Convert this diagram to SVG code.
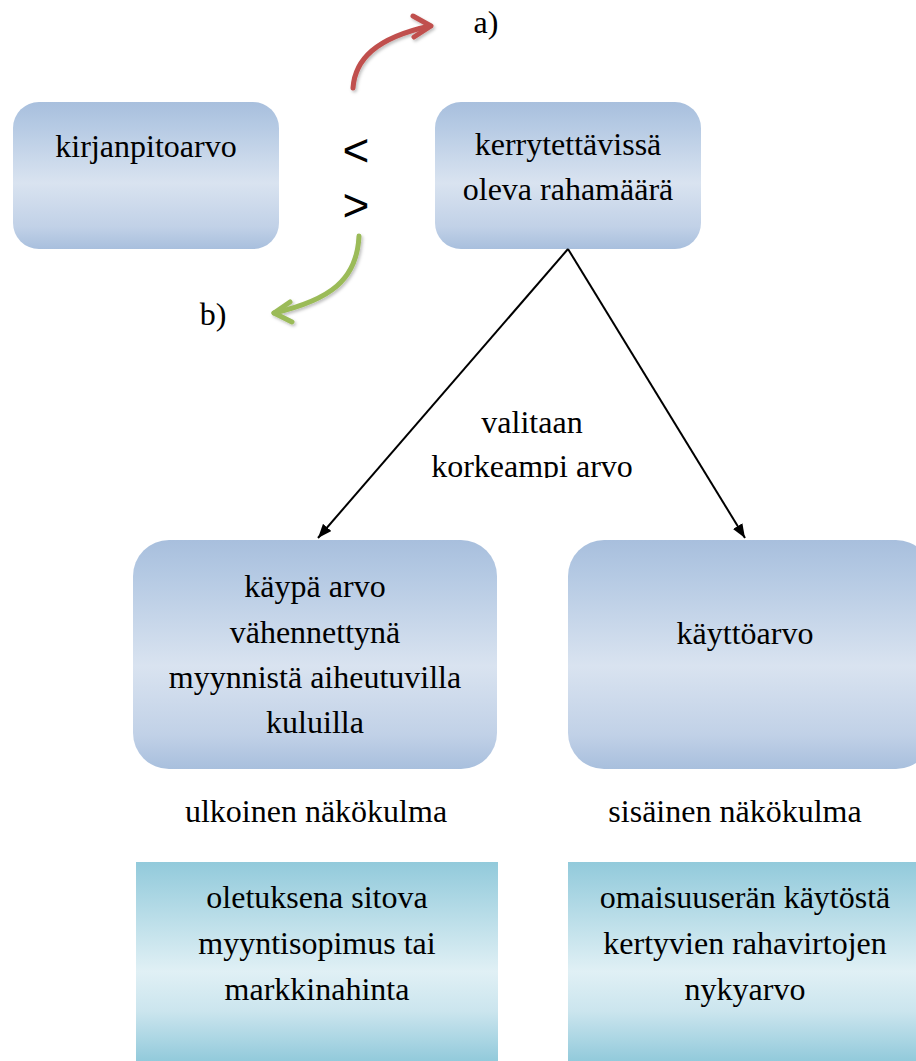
<svg xmlns="http://www.w3.org/2000/svg" width="916" height="1061" viewBox="0 0 916 1061">
<defs>
  <linearGradient id="blue" x1="0" y1="0" x2="0" y2="1">
    <stop offset="0" stop-color="#a8bfdd"/>
    <stop offset="0.15" stop-color="#b4c9e3"/>
    <stop offset="0.55" stop-color="#d9e3f0"/>
    <stop offset="0.85" stop-color="#c1d1e7"/>
    <stop offset="1" stop-color="#a8bfdd"/>
  </linearGradient>
  <linearGradient id="teal" x1="0" y1="0" x2="0" y2="1">
    <stop offset="0" stop-color="#92cadb"/>
    <stop offset="0.55" stop-color="#e0f0f5"/>
    <stop offset="0.75" stop-color="#cbe5ee"/>
    <stop offset="1" stop-color="#92cadb"/>
  </linearGradient>
  <marker id="ah" viewBox="0 0 14 11" refX="14" refY="5.5" markerWidth="14" markerHeight="11" markerUnits="userSpaceOnUse" orient="auto">
    <path d="M0,0 L14,5.5 L0,11 Z" fill="#000"/>
  </marker>
  <filter id="sh" x="-20%" y="-20%" width="140%" height="140%">
    <feDropShadow dx="1.5" dy="2" stdDeviation="1.5" flood-color="#000" flood-opacity="0.25"/>
  </filter>
  <clipPath id="clipLabel">
    <rect x="380" y="380" width="300" height="98"/>
  </clipPath>
</defs>

<g id="node-kirjanpitoarvo" font-family="Liberation Serif" font-size="32" text-anchor="middle">
  <rect fill="url(#blue)" x="13" y="102" width="266" height="147" rx="26"/>
  <text x="146" y="157">kirjanpitoarvo</text>
</g>

<g id="node-kerrytettavissa" font-family="Liberation Serif" font-size="32" text-anchor="middle">
  <rect fill="url(#blue)" x="435" y="102" width="266" height="147" rx="26"/>
  <text x="568" y="155">kerrytettävissä</text>
  <text x="568" y="200">oleva rahamäärä</text>
</g>

<g id="symbols" font-family="Liberation Sans" font-size="46" text-anchor="middle">
  <text x="356" y="166">&lt;</text>
  <text x="356" y="221">&gt;</text>
</g>

<g id="label-a" font-family="Liberation Serif" font-size="32" text-anchor="middle"><text x="486" y="33">a)</text></g>
<g id="label-b" font-family="Liberation Serif" font-size="32" text-anchor="middle"><text x="213" y="325">b)</text></g>

<g id="node-kaypa-arvo" font-family="Liberation Serif" font-size="32" text-anchor="middle">
  <rect fill="url(#blue)" x="133" y="540" width="364" height="229" rx="36"/>
  <text x="315" y="597">käypä arvo</text>
  <text x="315" y="643">vähennettynä</text>
  <text x="315" y="688">myynnistä aiheutuvilla</text>
  <text x="315" y="733">kuluilla</text>
</g>

<g id="node-kayttoarvo" font-family="Liberation Serif" font-size="32" text-anchor="middle">
  <rect fill="url(#blue)" x="568" y="540" width="364" height="229" rx="36"/>
  <text x="745" y="644">käyttöarvo</text>
</g>

<g id="label-ulkoinen" font-family="Liberation Serif" font-size="32" text-anchor="middle"><text x="316" y="822">ulkoinen näkökulma</text></g>
<g id="label-sisainen" font-family="Liberation Serif" font-size="32" text-anchor="middle"><text x="735" y="822">sisäinen näkökulma</text></g>

<g id="node-oletuksena" font-family="Liberation Serif" font-size="32" text-anchor="middle">
  <rect fill="url(#teal)" x="136" y="862" width="362" height="199"/>
  <text x="317" y="908">oletuksena sitova</text>
  <text x="317" y="954">myyntisopimus tai</text>
  <text x="317" y="1000">markkinahinta</text>
</g>

<g id="node-omaisuuseran" font-family="Liberation Serif" font-size="32" text-anchor="middle">
  <rect fill="url(#teal)" x="568" y="862" width="348" height="199"/>
  <text x="745" y="908">omaisuuserän käytöstä</text>
  <text x="745" y="954">kertyvien rahavirtojen</text>
  <text x="745" y="1000">nykyarvo</text>
</g>

<g id="label-valitaan" clip-path="url(#clipLabel)" font-family="Liberation Serif" font-size="32" text-anchor="middle">
  <text x="532" y="433">valitaan</text>
  <text x="532" y="477">korkeampi arvo</text>
</g>

<g id="connectors">
  <line stroke="#000" stroke-width="2" marker-end="url(#ah)" x1="568" y1="249" x2="318" y2="538"/>
  <line stroke="#000" stroke-width="2" marker-end="url(#ah)" x1="568" y1="249" x2="745" y2="538"/>
  <g stroke="#c0504d" fill="none" stroke-width="5" stroke-linecap="round" stroke-linejoin="round" filter="url(#sh)">
    <path d="M353,88 C355,60 375,38 430,26"/>
    <path d="M413,16 L431,26 L414,37"/>
  </g>
  <g stroke="#9bbb59" fill="none" stroke-width="5" stroke-linecap="round" stroke-linejoin="round" filter="url(#sh)">
    <path d="M359,236 C357,280 330,300 274,313"/>
    <path d="M290,302 L274,313 L292,322"/>
  </g>
</g>
</svg>
